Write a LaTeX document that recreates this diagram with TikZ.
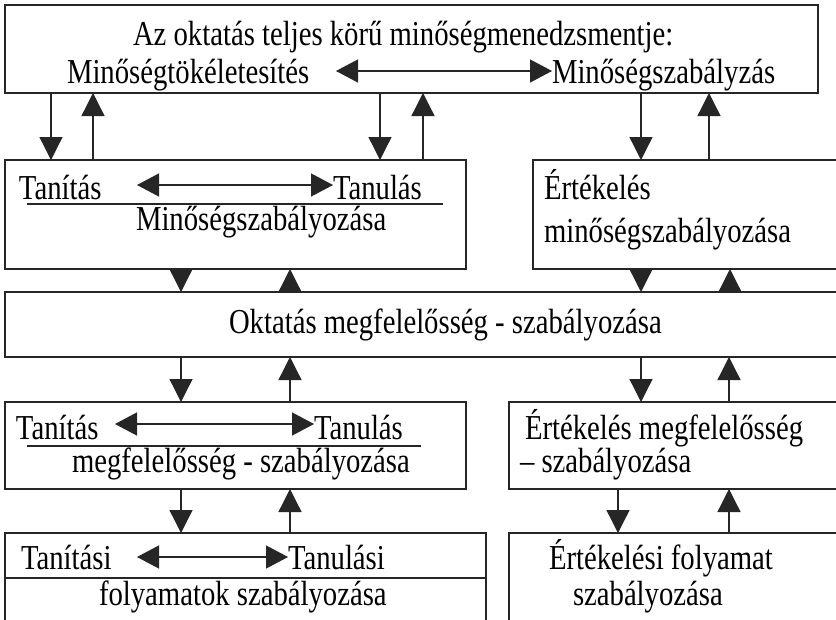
\documentclass[tikz,border=0pt]{standalone}
\usepackage{fontspec}
\setmainfont{Liberation Serif}[FakeStretch=0.82]
\usetikzlibrary{arrows.meta}
\begin{document}
\begin{tikzpicture}[x=1pt,y=-1pt,
  box/.style={draw=black!85, line width=1.3pt, inner sep=0pt, outer sep=0pt, anchor=north west},
  txt/.style={inner sep=0pt, outer sep=0pt, anchor=base west, font=\fontsize{35}{40}\selectfont},
  arr/.style={draw=black!85, line width=1.3pt, -{Triangle[length=23pt,width=23pt]}},
  darr/.style={draw=black!85, line width=1.3pt, {Triangle[length=22pt,width=23pt]}-{Triangle[length=22pt,width=23pt]}},
  uline/.style={draw=black!85, line width=1.3pt}
]
\useasboundingbox (0,0) rectangle (836,619);
\clip (0,0) rectangle (836,619);
\fill[white] (0,0) rectangle (836,619);
% boxes
\node[box, minimum width=813pt, minimum height=88pt] (b1) at (5,5) {};
\node[box, minimum width=461pt, minimum height=109pt] (b2) at (5,160) {};
\node[box, minimum width=320pt, minimum height=109pt] (b3) at (533,160) {};
\node[box, minimum width=850pt, minimum height=65pt] (b4) at (5,292) {};
\node[box, minimum width=461pt, minimum height=87pt] (b5) at (5,402) {};
\node[box, minimum width=340pt, minimum height=87pt] (b6) at (509,402) {};
\node[box, minimum width=481pt, minimum height=110pt] (b7) at (5,533) {};
\node[box, minimum width=340pt, minimum height=110pt] (b8) at (509,533) {};
% texts
\node[txt] (t1) at (133,45) {Az oktatás teljes körű minőségmenedzsmentje:};
\node[txt] (t1a) at (67,83) {Minőségtökéletesítés};
\node[txt] (t1b) at (552,83) {Minőségszabályzás};
\node[txt] (t2a) at (19,199) {Tanítás};
\node[txt] (t2b) at (333,199) {Tanulás};
\node[txt] (t2c) at (136,230) {Minőségszabályozása};
\node[txt] (t3a) at (544,199) {Értékelés};
\node[txt] (t3b) at (544,242) {minőségszabályozása};
\node[txt] (t4) at (229,333) {Oktatás megfelelősség - szabályozása};
\node[txt] (t5a) at (16,439) {Tanítás};
\node[txt] (t5b) at (314,439) {Tanulás};
\node[txt] (t5c) at (72,472) {megfelelősség - szabályozása};
\node[txt] (t6a) at (525,439) {Értékelés megfelelősség};
\node[txt] (t6b) at (520,472) {– szabályozása};
\node[txt] (t7a) at (21,569) {Tanítási};
\node[txt] (t7b) at (288,569) {Tanulási};
\node[txt] (t7c) at (99,605) {folyamatok szabályozása};
\node[txt] (t8a) at (549,569) {Értékelési folyamat};
\node[txt] (t8b) at (573,605) {szabályozása};
% double arrows
\coordinate (h1l) at (336,71); \coordinate (h1r) at (552,71);
\draw[darr] (h1l) -- (h1r);
\coordinate (h2l) at (137,185); \coordinate (h2r) at (333,185);
\draw[darr] (h2l) -- (h2r);
\coordinate (h5l) at (115,424); \coordinate (h5r) at (314,424);
\draw[darr] (h5l) -- (h5r);
\coordinate (h7l) at (137,557); \coordinate (h7r) at (288,557);
\draw[darr] (h7l) -- (h7r);
% underlines
\coordinate (u2l) at (27,204); \coordinate (u2r) at (443,204);
\draw[uline] (u2l) -- (u2r);
\coordinate (u5l) at (27,446); \coordinate (u5r) at (421,446);
\draw[uline] (u5l) -- (u5r);
\draw[uline] (b7.west |- 0,578) -- (b7.east |- 0,578);
% vertical arrows
\draw[arr] (51,0 |- b1.south) -- (51,0 |- b2.north);
\draw[arr] (93,0 |- b2.north) -- (93,0 |- b1.south);
\draw[arr] (380,0 |- b1.south) -- (380,0 |- b2.north);
\draw[arr] (423,0 |- b2.north) -- (423,0 |- b1.south);
\draw[arr] (641,0 |- b1.south) -- (641,0 |- b3.north);
\draw[arr] (709,0 |- b3.north) -- (709,0 |- b1.south);
\draw[arr] (181,0 |- b2.south) -- (181,0 |- b4.north);
\draw[arr] (290,0 |- b4.north) -- (290,0 |- b2.south);
\draw[arr] (641,0 |- b3.south) -- (641,0 |- b4.north);
\draw[arr] (730,0 |- b4.north) -- (730,0 |- b3.south);
\draw[arr] (181,0 |- b4.south) -- (181,0 |- b5.north);
\draw[arr] (290,0 |- b5.north) -- (290,0 |- b4.south);
\draw[arr] (641,0 |- b4.south) -- (641,0 |- b6.north);
\draw[arr] (729,0 |- b6.north) -- (729,0 |- b4.south);
\draw[arr] (181,0 |- b5.south) -- (181,0 |- b7.north);
\draw[arr] (290,0 |- b7.north) -- (290,0 |- b5.south);
\draw[arr] (618,0 |- b6.south) -- (618,0 |- b8.north);
\draw[arr] (729,0 |- b8.north) -- (729,0 |- b6.south);
\end{tikzpicture}
\end{document}
